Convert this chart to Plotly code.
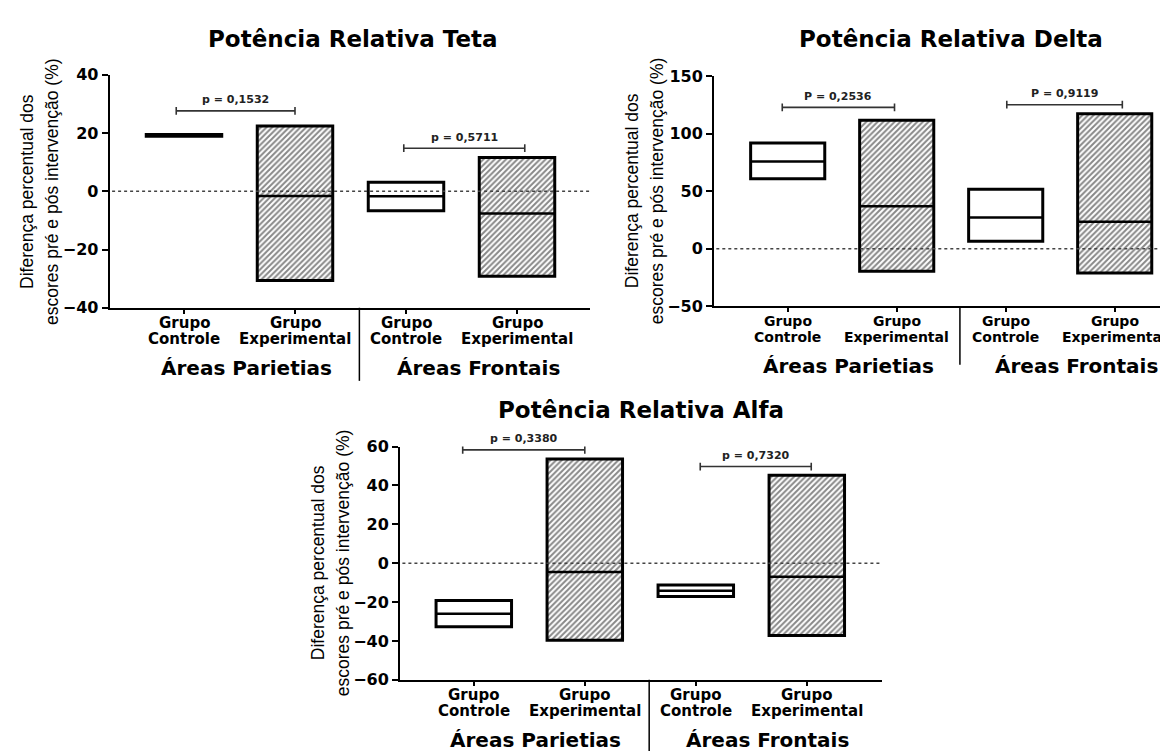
import plotly.graph_objects as go

# ---------------- data ----------------
groups = ["Grupo<br>Controle", "Grupo<br>Experimental", "Grupo<br>Controle", "Grupo<br>Experimental"]
areas = ["Áreas Parietias", "Áreas Frontais"]
titles = ["Potência Relativa Teta", "Potência Relativa Delta", "Potência Relativa Alfa"]

teta_min = [18.9, -30.6, -6.7, -29.2]
teta_max = [19.5, 22.4, 3.1, 11.6]
teta_med = [19.2, -1.6, -1.7, -7.6]

delta_min = [60.8, -19.7, 6.5, -21.2]
delta_max = [91.9, 111.6, 51.7, 117.3]
delta_med = [75.8, 37.0, 27.1, 23.5]

alfa_min = [-32.7, -39.7, -17.1, -37.2]
alfa_max = [-19.2, 53.6, -11.2, 45.2]
alfa_med = [-26.0, -4.5, -14.2, -7.0]

teta_p = ["p = 0,1532", "p = 0,5711"]
delta_p = ["P = 0,2536", "P = 0,9119"]
alfa_p = ["p = 0,3380", "p = 0,7320"]
teta_p_y = [27.6, 14.8]
delta_p_y = [122.9, 125.2]
alfa_p_y = [58.3, 49.7]

teta_ticks = [-40, -20, 0, 20, 40]
delta_ticks = [-50, 0, 50, 100, 150]
alfa_ticks = [-60, -40, -20, 0, 20, 40, 60]

ytitle1 = "Diferença percentual dos"
ytitle2 = "escores pré e pós intervenção (%)"

# ---------------- layout geometry (pixels) ----------------
W, H = 1168, 751
BOLD = "DejaVu Sans"
panels = [
    dict(mn=teta_min, mx=teta_max, md=teta_med, p=teta_p, py=teta_p_y,
         ticks=teta_ticks, xl=101.7, xr=582, yt=59.3, yb=298.3, sp=111, c0=176,
         title_xy=(345, 23), sep_len=75, br=[(-0.07, 1.0), (1.98, 3.07)], lab=15),
    dict(mn=delta_min, mx=delta_max, md=delta_med, p=delta_p, py=delta_p_y,
         ticks=delta_ticks, xl=706, xr=1168, yt=60.7, yb=296.7, sp=109, c0=779.7,
         title_xy=(943, 23), sep_len=60, br=[(-0.05, 0.98), (2.01, 3.07)], lab=14),
    dict(mn=alfa_min, mx=alfa_max, md=alfa_med, p=alfa_p, py=alfa_p_y,
         ticks=alfa_ticks, xl=392, xr=874, yt=440.7, yb=680, sp=111, c0=465.8,
         title_xy=(633, 403), sep_len=75, br=[(-0.1, 1.0), (2.04, 3.04)], lab=15),
]

BAR_W = 0.68
xs = [0, 1, 2, 3]
shapes_hatch = ["", "/", "", "/"]

fig = go.Figure()
annotations = []
shapes = []

for k, pnl in enumerate(panels):
    sfx = "" if k == 0 else str(k + 1)
    xa, ya = "x" + sfx, "y" + sfx
    xkey, ykey = "xaxis" + sfx, "yaxis" + sfx
    x0 = -(pnl["c0"] - pnl["xl"]) / pnl["sp"]
    x1 = x0 + (pnl["xr"] - pnl["xl"]) / pnl["sp"]
    ymin, ymax = min(pnl["ticks"]), max(pnl["ticks"])
    hpx = pnl["yb"] - pnl["yt"]
    upp = (ymax - ymin) / hpx  # units per pixel

    fig.add_trace(go.Bar(
        x=xs, y=[b - a for a, b in zip(pnl["mn"], pnl["mx"])], base=pnl["mn"],
        width=BAR_W, xaxis=xa, yaxis=ya, showlegend=False,
        marker=dict(color="white", line=dict(color="black", width=3),
                    pattern=dict(shape=shapes_hatch, fgcolor="#111", bgcolor="white",
                                 size=4, solidity=0.5)),
    ))
    mx_, my_ = [], []
    for i, m in zip(xs, pnl["md"]):
        mx_ += [i - BAR_W / 2, i + BAR_W / 2, None]
        my_ += [m, m, None]
    fig.add_trace(go.Scatter(x=mx_, y=my_, mode="lines", xaxis=xa, yaxis=ya,
                             line=dict(color="black", width=2.5), showlegend=False,
                             hoverinfo="skip"))

    fig.layout[xkey] = dict(domain=[pnl["xl"] / W, min(pnl["xr"] / W, 1.0)], range=[x0, x1],
                            anchor=ya, showline=True, linecolor="black", linewidth=2,
                            ticks="outside", ticklen=4, tickwidth=2, tickcolor="black",
                            tickvals=xs, showticklabels=False, showgrid=False, zeroline=False)
    fig.layout[ykey] = dict(domain=[1 - pnl["yb"] / H, 1 - pnl["yt"] / H], range=[ymin, ymax],
                            anchor=xa, showline=True, linecolor="black", linewidth=2,
                            ticks="outside", ticklen=6, tickwidth=2, tickcolor="black",
                            tickvals=pnl["ticks"], showgrid=False, zeroline=False,
                            tickfont=dict(family=BOLD, size=16, color="black", weight="bold"))

    # zero dotted line
    shapes.append(dict(type="line", xref=xa + " domain", yref=ya, x0=0.005, x1=1, y0=0, y1=0,
                       line=dict(color="#444", width=1.5, dash="dot")))
    # separator between areas
    shapes.append(dict(type="line", xref=xa, yref=ya + " domain", x0=1.58, x1=1.58,
                       y0=0, y1=-pnl["sep_len"] / hpx, line=dict(color="black", width=1.5)))
    # p brackets
    cap = 4 * upp
    for (bl, brr), yv, txt in zip(pnl["br"], pnl["py"], pnl["p"]):
        shapes.append(dict(type="line", xref=xa, yref=ya, x0=bl, x1=brr, y0=yv, y1=yv,
                           line=dict(color="#333", width=1.6)))
        for xe in (bl, brr):
            shapes.append(dict(type="line", xref=xa, yref=ya, x0=xe, x1=xe, y0=yv - cap,
                               y1=yv + cap, line=dict(color="#333", width=1.6)))
        annotations.append(dict(xref=xa, yref=ya, x=(bl + brr) / 2, y=yv, yshift=11,
                                text=txt, showarrow=False, xanchor="center",
                                font=dict(family=BOLD, size=11, color="#222", weight="bold")))
    # category labels (two lines)
    for i, g in zip(xs, groups):
        l1, l2 = g.split("<br>")
        for txt, sh in ((l1, -15), (l2, -31)):
            annotations.append(dict(xref=xa, yref=ya + " domain", x=i, y=0, yshift=sh,
                                    text=txt, showarrow=False, xanchor="center", yanchor="middle",
                                    font=dict(family=BOLD, size=pnl["lab"], color="black",
                                              weight="bold")))
    # area labels
    for xv, txt in zip([0.56, 2.65], areas):
        annotations.append(dict(xref=xa, yref=ya + " domain", x=xv, y=0, yshift=-60,
                                text=txt, showarrow=False, xanchor="center", yanchor="middle",
                                font=dict(family=BOLD, size=20, color="black", weight="bold")))
    # panel title
    tx, ty = pnl["title_xy"]
    annotations.append(dict(xref="paper", yref="paper", x=tx / W, y=1 - ty / H, text=titles[k],
                            showarrow=False, xanchor="center", yanchor="middle",
                            font=dict(family=BOLD, size=23, color="black", weight="bold")))
    # y titles
    yc = 1 - (pnl["yt"] + pnl["yb"]) / 2 / H
    for txt, off in ((ytitle1, 82), (ytitle2, 57)):
        annotations.append(dict(xref="paper", yref="paper", x=(pnl["xl"] - off) / W, y=yc,
                                text=txt, textangle=-90, showarrow=False,
                                xanchor="center", yanchor="middle",
                                font=dict(family="Liberation Sans", size=17.5, color="black")))

fig.update_layout(width=W, height=H, margin=dict(l=0, r=0, t=0, b=0),
                  paper_bgcolor="white", plot_bgcolor="white", barmode="overlay",
                  annotations=annotations, shapes=shapes)

fig.write_html("out.html")
